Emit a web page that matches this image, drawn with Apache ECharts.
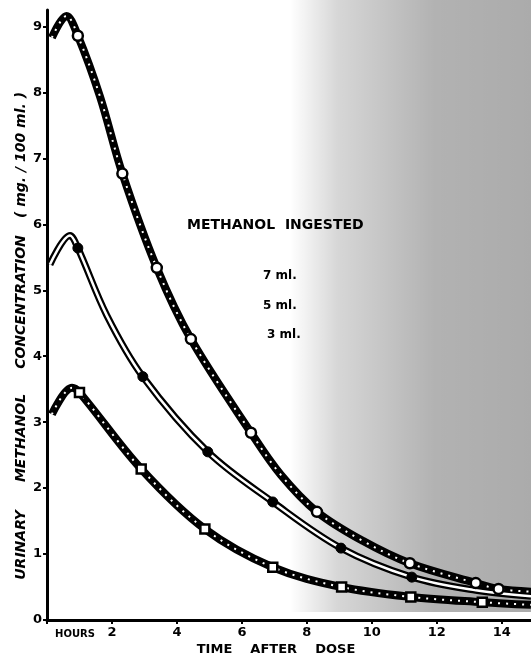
<!DOCTYPE html>
<html><head><meta charset="utf-8">
<script src="https://cdn.jsdelivr.net/npm/echarts@6/dist/echarts.min.js"></script>
<style>html,body{margin:0;padding:0;background:#fff}#c{width:531px;height:656px}</style>
</head><body><div id="c"></div>
<script>
// tick labels
const xTickLabels = [2, 4, 6, 8, 10, 12, 14];
const yTickLabels = [0, 1, 2, 3, 4, 5, 6, 7, 8, 9];
const legendTitle = 'METHANOL  INGESTED';
const seriesNames = ['7 ml.', '5 ml.', '3 ml.'];

// 7 ml. (open circles)
const t7 = [0.15, 0.6, 0.95, 1.63, 2.32, 3.38, 4.43, 6.28, 7.2, 8.31, 9.72, 11.17, 13.2, 13.9, 14.9];
const v7 = [8.83, 9.16, 8.86, 7.94, 6.77, 5.34, 4.26, 2.84, 2.2, 1.64, 1.2, 0.86, 0.56, 0.47, 0.43];
const mark7 = [2, 4, 5, 6, 7, 9, 11, 12, 13];

// 5 ml. (filled circles)
const t5 = [0.09, 0.71, 0.95, 1.84, 2.95, 4.95, 6.95, 9.05, 11.23, 13.2, 14.9];
const v5 = [5.39, 5.83, 5.64, 4.62, 3.69, 2.55, 1.79, 1.09, 0.65, 0.45, 0.36];
const mark5 = [2, 4, 5, 6, 7, 8];

// 3 ml. (open squares)
const t3 = [0.15, 0.77, 1.0, 2.9, 4.86, 6.95, 9.07, 11.2, 13.4, 14.9];
const v3 = [3.12, 3.52, 3.45, 2.29, 1.38, 0.80, 0.50, 0.35, 0.27, 0.23];
const mark3 = [2, 3, 4, 5, 6, 7, 8];

const pts = (t, v) => t.map((x, i) => [x, v[i]]);
const marks = (t, v, idx) => idx.map(i => [t[i], v[i]]);

const chart = echarts.init(document.getElementById('c'), null, {renderer: 'canvas'});
const F = '"DejaVu Sans", sans-serif';
const SM = 0.35;

const thick = (name, data) => ({
  name, type: 'line', data, smooth: SM, symbol: 'none', z: 2,
  lineStyle: {color: '#000', width: 8}
});
const dots = (data) => ({
  type: 'line', data, smooth: SM, symbol: 'none', z: 3, silent: true,
  lineStyle: {color: '#fff', width: 2, type: [2, 6]}
});

chart.setOption({
  animation: false,
  backgroundColor: '#fff',
  grid: {left: 47, right: 0, top: 10, bottom: 36, containLabel: false},
  xAxis: {
    type: 'value', min: 0, max: 14.9, interval: 2,
    axisLine: {show: true, lineStyle: {color: '#000', width: 3}},
    axisTick: {show: true, length: 4, lineStyle: {color: '#000', width: 2}},
    axisLabel: {
      color: '#000', fontFamily: F, fontWeight: 'bold', fontSize: 13, margin: 6,
      showMaxLabel: false,
      formatter: v => (xTickLabels.indexOf(v) >= 0 ? String(v) : '')
    },
    splitLine: {show: false}
  },
  yAxis: {
    type: 'value', min: 0, max: 9.25, interval: 1,
    axisLine: {show: true, lineStyle: {color: '#000', width: 3}},
    axisTick: {show: true, length: 4, lineStyle: {color: '#000', width: 2}},
    axisLabel: {
      color: '#000', fontFamily: F, fontWeight: 'bold', fontSize: 13, margin: 5,
      showMaxLabel: false,
      formatter: v => (yTickLabels.indexOf(v) >= 0 ? String(v) : '')
    },
    splitLine: {show: false}
  },
  graphic: [
    {type: 'rect', z: -10, silent: true,
      shape: {x: 290, y: 0, width: 241, height: 612},
      style: {fill: new echarts.graphic.LinearGradient(0, 0, 1, 0, [
        {offset: 0, color: 'rgba(0,0,0,0)'},
        {offset: 0.2, color: 'rgba(0,0,0,0.16)'},
        {offset: 0.6, color: 'rgba(0,0,0,0.3)'},
        {offset: 1, color: 'rgba(0,0,0,0.33)'}
      ])}},
    {type: 'text', x: 21, y: 545, rotation: Math.PI / 2,
      style: {text: 'URINARY', font: 'italic bold 14px ' + F, fill: '#000', align: 'center', verticalAlign: 'middle'}},
    {type: 'text', x: 21, y: 438, rotation: Math.PI / 2,
      style: {text: 'METHANOL', font: 'italic bold 14px ' + F, fill: '#000', align: 'center', verticalAlign: 'middle'}},
    {type: 'text', x: 21, y: 302, rotation: Math.PI / 2,
      style: {text: 'CONCENTRATION', font: 'italic bold 14px ' + F, fill: '#000', align: 'center', verticalAlign: 'middle'}},
    {type: 'text', x: 21, y: 155, rotation: Math.PI / 2,
      style: {text: '( mg. / 100 ml. )', font: 'italic bold 14px ' + F, fill: '#000', align: 'center', verticalAlign: 'middle'}},
    {type: 'text', x: 75, y: 634,
      style: {text: 'HOURS', font: 'bold 10px ' + F, fill: '#000', align: 'center', verticalAlign: 'middle'}},
    {type: 'text', x: 276, y: 650,
      style: {text: 'TIME    AFTER    DOSE', font: 'bold 13px ' + F, fill: '#000', align: 'center', verticalAlign: 'middle'}},
    {type: 'text', x: 187, y: 225,
      style: {text: legendTitle, font: 'bold 14px ' + F, fill: '#000', align: 'left', verticalAlign: 'middle'}},
    {type: 'text', x: 263, y: 276,
      style: {text: seriesNames[0], font: 'bold 12px ' + F, fill: '#000', align: 'left', verticalAlign: 'middle'}},
    {type: 'text', x: 263, y: 306,
      style: {text: seriesNames[1], font: 'bold 12px ' + F, fill: '#000', align: 'left', verticalAlign: 'middle'}},
    {type: 'text', x: 267, y: 335,
      style: {text: seriesNames[2], font: 'bold 12px ' + F, fill: '#000', align: 'left', verticalAlign: 'middle'}}
  ],
  series: [
    thick(seriesNames[0], pts(t7, v7)),
    dots(pts(t7, v7)),
    thick(seriesNames[2], pts(t3, v3)),
    dots(pts(t3, v3)),
    {name: seriesNames[1], type: 'line', data: pts(t5, v5), smooth: SM, symbol: 'none', z: 2,
      lineStyle: {color: '#000', width: 7}},
    {type: 'line', data: pts(t5, v5), smooth: SM, symbol: 'none', z: 3, silent: true,
      lineStyle: {color: '#fff', width: 2.5}},
    {type: 'scatter', data: marks(t7, v7, mark7), symbol: 'circle', symbolSize: 10, z: 5,
      itemStyle: {color: '#fff', borderColor: '#000', borderWidth: 2.5, opacity: 1}},
    {type: 'scatter', data: marks(t5, v5, mark5), symbol: 'circle', symbolSize: 10, z: 5,
      itemStyle: {color: '#000', borderColor: '#000', borderWidth: 1, opacity: 1}},
    {type: 'scatter', data: marks(t3, v3, mark3), symbol: 'rect', symbolSize: 9, z: 5,
      itemStyle: {color: '#fff', borderColor: '#000', borderWidth: 2.5, opacity: 1}}
  ]
});
</script></body></html>
